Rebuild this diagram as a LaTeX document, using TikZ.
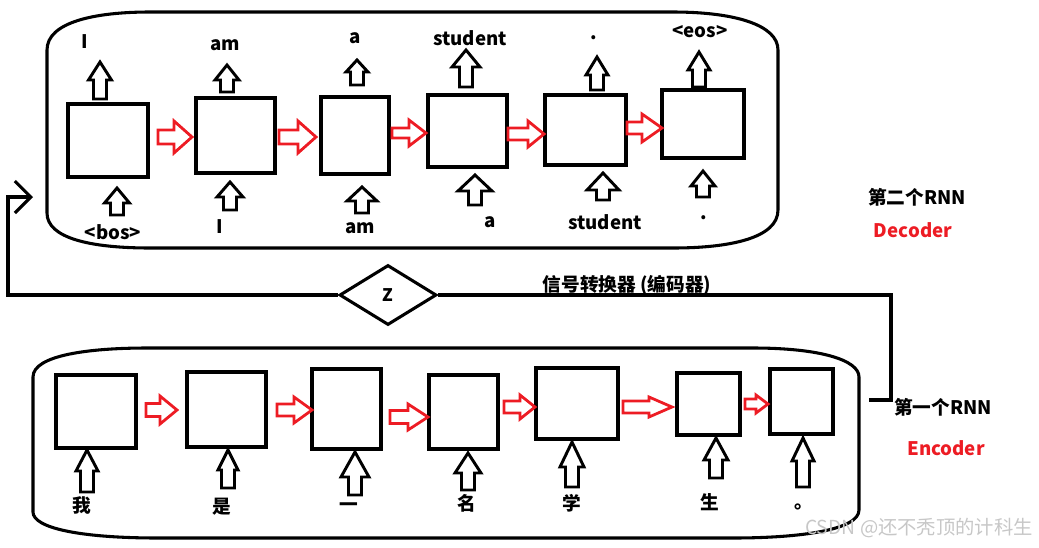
\documentclass[tikz,border=0pt]{standalone}
\usepackage{fontspec}
\setmainfont{Noto Sans CJK SC}
\usetikzlibrary{shapes.geometric,fit,arrows.meta}
\definecolor{paintred}{RGB}{237,28,36}

% hollow block arrow pointing up: x, y of tail, y of tip, head half-width, head length
\newcommand\uparr[5]{%
  \draw[uparrow] (#1-6.5,#2) -- (#1+6.5,#2) -- (#1+6.5,#3+#5) -- (#1+#4,#3+#5)
    -- (#1,#3) -- (#1-#4,#3+#5) -- (#1-6.5,#3+#5) -- cycle;}
% hollow block arrow pointing right: x of tail, x of tip, y, head half-width, shaft half-width, head length
\newcommand\rtarr[6]{%
  \draw[redarrow] (#1,#3-#5) -- (#2-#6,#3-#5) -- (#2-#6,#3-#4) -- (#2,#3)
    -- (#2-#6,#3+#4) -- (#2-#6,#3+#5) -- (#1,#3+#5) -- cycle;}

\tikzset{
  cell/.style={draw, line width=2.4pt, inner sep=0pt},
  container/.style={draw, line width=2.3pt},
  uparrow/.style={draw, line width=2.2pt, line join=miter},
  redarrow/.style={draw=paintred, line width=2.1pt, line join=miter},
  lbl/.style={font=\bfseries\fontsize{14}{16}\selectfont, inner sep=0pt},
  link/.style={line width=2.3pt},
  redlbl/.style={lbl, text=paintred},
}

\begin{document}
\begin{tikzpicture}[x=0.75pt,y=-0.75pt]
\useasboundingbox (0,0) rectangle (1039,547);

% ---------- decoder (second RNN) ----------
\draw[container] (47,50) .. controls (47,22) and (95,12) .. (150,12) -- (673,12)
  .. controls (735,12) and (778,25) .. (778,50) -- (778,210)
  .. controls (778,238) and (730,248) .. (673,248) -- (150,248)
  .. controls (90,248) and (47,238) .. (47,213) -- cycle;

\node[cell, fit={(68,104) (148,177)}] (d1) {};
\node[cell, fit={(196,98) (275,173)}] (d2) {};
\node[cell, fit={(321,97) (389,174)}] (d3) {};
\node[cell, fit={(428,95) (507,167)}] (d4) {};
\node[cell, fit={(545,95) (626,165)}] (d5) {};
\node[cell, fit={(662,90) (744,158)}] (d6) {};

\rtarr{158}{192}{137}{16}{7}{18}
\rtarr{279}{316}{137}{16}{7}{18}
\rtarr{392}{426}{133}{13}{5}{17}
\rtarr{508}{544}{134}{13}{6}{16}
\rtarr{627}{662}{128}{14}{6}{20}

% outputs
\uparr{100}{99}{62}{11.5}{18}
\uparr{227}{92}{65}{12}{15}
\uparr{357}{85}{60}{11}{12}
\uparr{466}{87}{50}{14}{17}
\uparr{597}{90}{57}{11}{18}
\uparr{699}{87}{52}{11}{18}
% inputs
\uparr{117}{215}{188}{12.5}{15}
\uparr{230}{210}{182}{13}{15}
\uparr{362}{213}{187}{15}{14}
\uparr{475}{205}{175}{17}{16}
\uparr{603}{200}{173}{16}{17}
\uparr{703}{197}{171}{12}{15}

\node[lbl] (o1) at (85,42) {I};
\node[lbl] (o2) at (225,45) {am};
\node[lbl] (o3) at (355,38) {a};
\node[lbl] (o4) at (470,38) {student};
\node[lbl] (o5) at (594,38) {.};
\node[lbl] (o6) at (700,32) {<eos>};
\node[lbl] (i1) at (113,232) {<bos>};
\node[lbl] (i2) at (220,227) {I};
\node[lbl] (i3) at (360,228) {am};
\node[lbl] (i4) at (490,222) {a};
\node[lbl] (i5) at (605,222) {student};
\node[lbl] (i6) at (704,218) {.};

\node[lbl] (decname) at (917,197) {第二个RNN};
\node[redlbl] (dec) at (913,230) {Decoder};

% ---------- encoder (first RNN) ----------
\draw[container] (33,377) .. controls (33,355) and (90,348) .. (147,348) -- (753,348)
  .. controls (820,348) and (859,360) .. (859,377) -- (859,510)
  .. controls (859,530) and (800,538) .. (733,538) -- (158,538)
  .. controls (80,538) and (33,528) .. (33,512) -- cycle;

\node[cell, fit={(56,375) (136,448)}] (e1) {};
\node[cell, fit={(187,372) (266,447)}] (e2) {};
\node[cell, fit={(312,369) (381,449)}] (e3) {};
\node[cell, fit={(429,375) (498,449)}] (e4) {};
\node[cell, fit={(536,368) (618,439)}] (e5) {};
\node[cell, fit={(677,373) (740,435)}] (e6) {};
\node[cell, fit={(770,369) (833,434)}] (e7) {};

\rtarr{146}{177}{410}{14}{6.5}{17}
\rtarr{277}{312}{410}{13}{6}{18}
\rtarr{390}{428}{417}{13}{6.5}{20}
\rtarr{504}{535}{407}{12}{6}{15}
\rtarr{623}{672}{407}{10}{6}{23}
\rtarr{745}{768}{404}{9}{5}{12}

\uparr{87}{492}{450}{11}{21}
\uparr{228}{488}{450}{10}{20}
\uparr{355}{495}{452}{14}{25}
\uparr{468}{490}{453}{13}{20}
\uparr{572}{487}{442}{12}{25}
\uparr{716}{478}{438}{12}{22}
\uparr{803}{487}{438}{11}{23}

\node[lbl] (w1) at (82,505) {我};
\node[lbl] (w2) at (222,507) {是};
\node[lbl] (w3) at (349,507) {一};
\node[lbl] (w4) at (467,503) {名};
\node[lbl] (w5) at (572,503) {学};
\node[lbl] (w6) at (710,502) {生};
\node[lbl] (w7) at (804,507) {。};

\node[lbl] (encname) at (943,407) {第一个RNN};
\node[redlbl] (enc) at (946,448) {Encoder};

% ---------- context vector Z feeding the decoder ----------
\node[draw, diamond, line width=2.3pt, inner sep=0pt, minimum width=72.75pt,
  minimum height=45pt, font=\bfseries\fontsize{13}{15}\selectfont] (z) at (388,295) {Z};
\node[lbl] (zname) at (627,285) {信号转换器 (编码器)};

\coordinate (src) at (869,400);
\coordinate (dst) at (33,197);
\draw[link] (src) -- (891,400) |- (z.east);
\draw[link, -{Straight Barb[length=12pt,width=24pt]}] (z.west) -| (8,197) -- (dst);

% ---------- watermark ----------
\node[font=\fontsize{14.5}{16}\selectfont, text=black!22, inner sep=0pt] (mark) at (919,528)
  {CSDN @还不秃顶的计科生};
\end{tikzpicture}
\end{document}
